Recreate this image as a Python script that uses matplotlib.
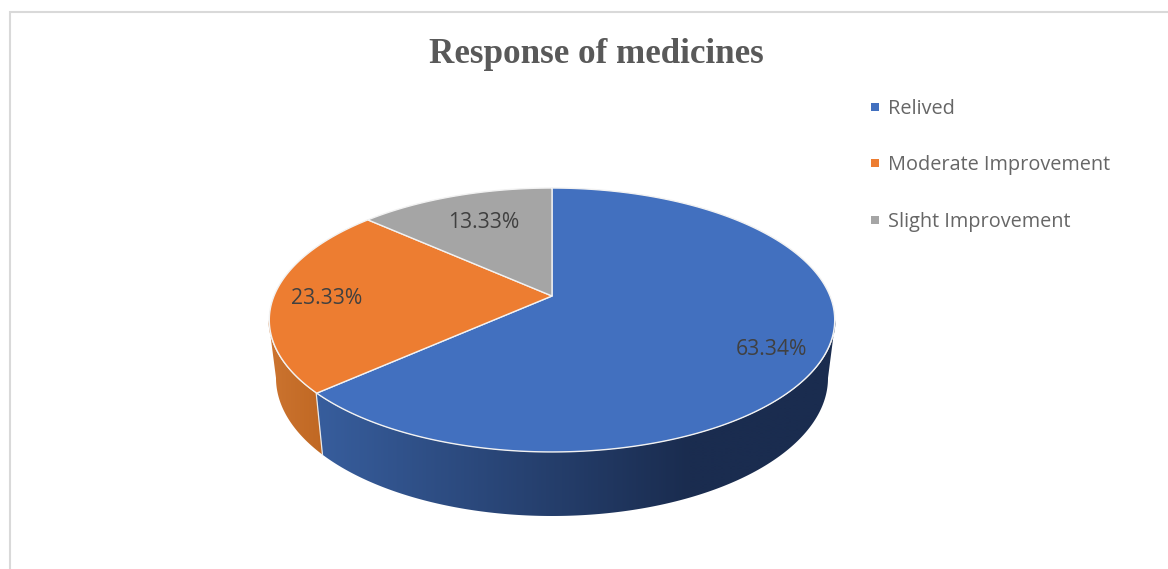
import numpy as np
import matplotlib
matplotlib.use("Agg")
import matplotlib.pyplot as plt
from matplotlib.lines import Line2D
from matplotlib.patches import Polygon
from matplotlib.colors import LinearSegmentedColormap

categories = ["Relived", "Moderate Improvement", "Slight Improvement"]
values = [63.34, 23.33, 13.33]
value_labels = ["63.34%", "23.33%", "13.33%"]
title = "Response of medicines"
colors = ["#4270BF", "#ED7D31", "#A5A5A5"]

W, H = 1168, 569
fig = plt.figure(figsize=(W / 100, H / 100), dpi=100, facecolor="white")
ax = fig.add_axes([0, 0, 1, 1])
ax.set_xlim(0, W)
ax.set_ylim(H, 0)
ax.axis("off")

# chart frame (runs off the right and bottom edges of the crop)
ax.plot([10, 10, W + 5], [H + 5, 11.5, 11.5], color="#D9D9D9", lw=1.5, clip_on=False,
        solid_joinstyle="miter")

# geometry of the tilted pie
cx, apex_y = 552.0, 296.0
k, a = 0.1818, 127.6
c = 278.0
top_cy, top_rx, top_ry = 320.0, 283.5, 132.0
bot_cy, bot_rx, bot_ry = 378.0, 276.0, 138.0


def project(theta):
    """theta: clockwise from 12 o'clock, radians; perspective map of the unit disc."""
    x, y = np.sin(theta), np.cos(theta)
    d = 1 + k * y
    return cx + c * x / d, apex_y - a * y / d


def to_param(theta):
    X, Y = project(theta)
    return np.arctan2((Y - top_cy) / top_ry, (X - cx) / top_rx)


edges = np.cumsum([0] + values) / sum(values) * 2 * np.pi

# side wall: front half of the rim, split at the seam between slices
seam = to_param(edges[1]) % (2 * np.pi)


def wall_polygon(t0, t1):
    t = np.linspace(t0, t1, 400)
    xs = np.r_[cx + top_rx * np.cos(t), cx + bot_rx * np.cos(t[::-1])]
    ys = np.r_[top_cy + top_ry * np.sin(t), bot_cy + bot_ry * np.sin(t[::-1])]
    return np.c_[xs, ys]


def wall_gradient(t0, t1, x0, x1, c0, c1):
    poly = Polygon(wall_polygon(t0, t1), closed=True, transform=ax.transData,
                   facecolor="none", edgecolor="none")
    ax.add_patch(poly)
    cmap = LinearSegmentedColormap.from_list("wall", [c0, c1])
    grad = np.clip((np.linspace(250, 850, 601) - x0) / (x1 - x0), 0, 1)[None, :]
    im = ax.imshow(grad, cmap=cmap, vmin=0, vmax=1, extent=(250, 850, 530, 300),
                   aspect="auto", interpolation="bilinear", zorder=2)
    im.set_clip_path(poly)


wall_gradient(0, seam, 320, 690, "#375D9C", "#1A2C4F")
wall_gradient(seam, np.pi, 268, 322, "#CC7430", "#C06823")
ax.set_xlim(0, W)
ax.set_ylim(H, 0)

# seam highlight on the wall
ax.plot([cx + top_rx * np.cos(seam), cx + bot_rx * np.cos(seam)],
        [top_cy + top_ry * np.sin(seam), bot_cy + bot_ry * np.sin(seam)],
        color="#E8E8E8", lw=0.9, zorder=3)

# top face
for i, col in enumerate(colors):
    th = np.linspace(edges[i], edges[i + 1], 300)
    X, Y = project(th)
    ax.fill(np.r_[cx, X], np.r_[apex_y, Y], facecolor=col, edgecolor="#F2F2F2", lw=1.0,
            joinstyle="round", zorder=4)

# data labels
label_pos = [(771, 349), (327, 298), (483.5, 222)]
for txt, (lx, ly) in zip(value_labels, label_pos):
    ax.text(lx, ly, txt, ha="center", va="center", fontsize=15.2, color="#404040",
            family="Open Sans", zorder=5)

# title
ax.text(596.5, 54.5, title, ha="center", va="center", fontsize=25.2, fontweight="bold",
        color="#595959", family="Liberation Serif")

# legend
handles = [Line2D([], [], linestyle="none", marker="s", markersize=5.2, markeredgewidth=0,
                  color=col) for col in colors]
ax.legend(handles, categories, loc="upper left", bbox_to_anchor=(868 / W, 1 - 98.5 / H),
          bbox_transform=ax.transAxes, frameon=False, labelcolor="#666666",
          prop={"family": "Open Sans", "size": 14.3}, labelspacing=1.85,
          handlelength=0.7, handletextpad=0.3, borderpad=0, borderaxespad=0)

fig.savefig("out.png", dpi=100, facecolor="white")
